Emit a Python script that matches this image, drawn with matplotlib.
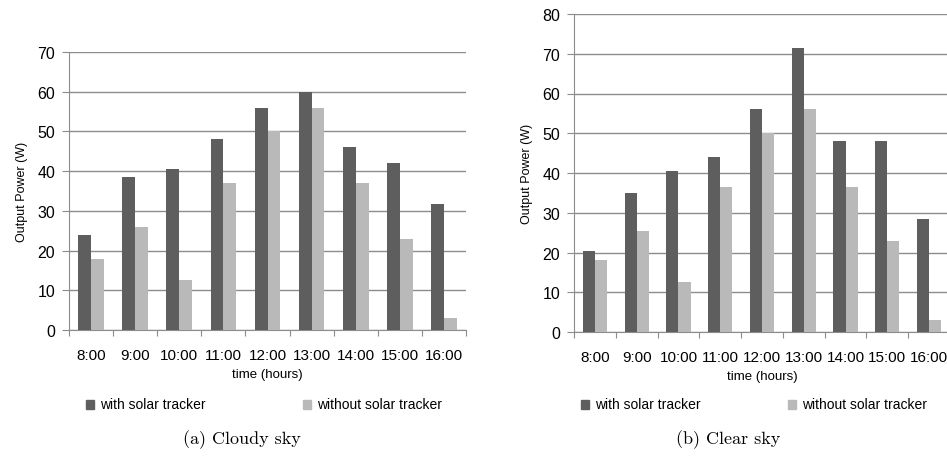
import numpy as np
import matplotlib.pyplot as plt
from matplotlib.patches import Rectangle

hours = ['8:00', '9:00', '10:00', '11:00', '12:00', '13:00', '14:00', '15:00', '16:00']

cloudy_with = [24, 38.5, 40.5, 48, 56, 60, 46, 42, 31.8]
cloudy_without = [18, 26, 12.5, 37, 50, 56, 37, 23, 3]

clear_with = [20.5, 35, 40.5, 44, 56, 71.5, 48, 48, 28.5]
clear_without = [18, 25.5, 12.5, 36.5, 50, 56, 36.5, 23, 3]

labels = ['with solar tracker', 'without solar tracker']

font = ['Liberation Sans', 'DejaVu Sans']
dark = '#5e5e5e'
light = '#b9b9b9'
grid_col = '#8c8c8c'
W, H = 947, 460


def draw_panel(ax, with_vals, without_vals, ymax):
    x = np.arange(len(hours))
    w = 0.29
    ax.bar(x + 0.21, with_vals, width=w, align='edge', color=dark, zorder=3)
    ax.bar(x + 0.21 + w, without_vals, width=w, align='edge', color=light, zorder=3)
    ax.set_xlim(0, len(hours))
    ax.set_ylim(0, ymax)
    ticks = list(range(0, ymax + 1, 10))
    ax.set_yticks(ticks)
    ax.set_yticklabels([str(v) for v in ticks], fontsize=11.5, family=font)
    ax.set_xticks(np.arange(len(hours) + 1))
    ax.set_xticklabels([])
    ax.set_xticks(x + 0.5, minor=True)
    ax.set_xticklabels(hours, minor=True, fontsize=11, family=font)
    ax.tick_params(axis='x', which='minor', length=0, pad=13)
    ax.tick_params(axis='x', which='major', length=4, color=grid_col, direction='out')
    ax.tick_params(axis='y', length=5, color=grid_col, pad=5)
    ax.grid(axis='y', color=grid_col, linewidth=1, zorder=0)
    for s in ['top', 'right']:
        ax.spines[s].set_visible(False)
    for s in ['left', 'bottom']:
        ax.spines[s].set_color(grid_col)
    ax.set_xlabel('time (hours)', fontsize=9.5, family=font, labelpad=4)
    ax.set_ylabel('Output Power (W)', fontsize=9, family=font, labelpad=7)


def legend_row(fig, text_x, y):
    # small square marker in front of each label, pixel positions
    for tx, col, lab in zip(text_x, [dark, light], labels):
        fig.patches.append(Rectangle(((tx - 14) / W, 1 - (y + 4.5) / H), 8 / W, 9 / H,
                                     transform=fig.transFigure, color=col))
        fig.text(tx / W, 1 - y / H, lab, ha='left', va='center', fontsize=10, family=font)


fig = plt.figure(figsize=(W / 100, H / 100), dpi=100)

ax1 = fig.add_axes([69 / W, 1 - 331 / H, 397 / W, 278 / H])
draw_panel(ax1, cloudy_with, cloudy_without, 70)

ax2 = fig.add_axes([574 / W, 1 - 333 / H, 376 / W, 318 / H])
draw_panel(ax2, clear_with, clear_without, 80)

legend_row(fig, [100, 317], 405)
legend_row(fig, [595, 802], 405)

fig.text(242 / W, 1 - 440 / H, '(a) Cloudy sky', ha='center', va='center', fontsize=13, family='cmr10')
fig.text(728 / W, 1 - 440 / H, '(b) Clear sky', ha='center', va='center', fontsize=13, family='cmr10')

fig.savefig('out.png', dpi=100)
